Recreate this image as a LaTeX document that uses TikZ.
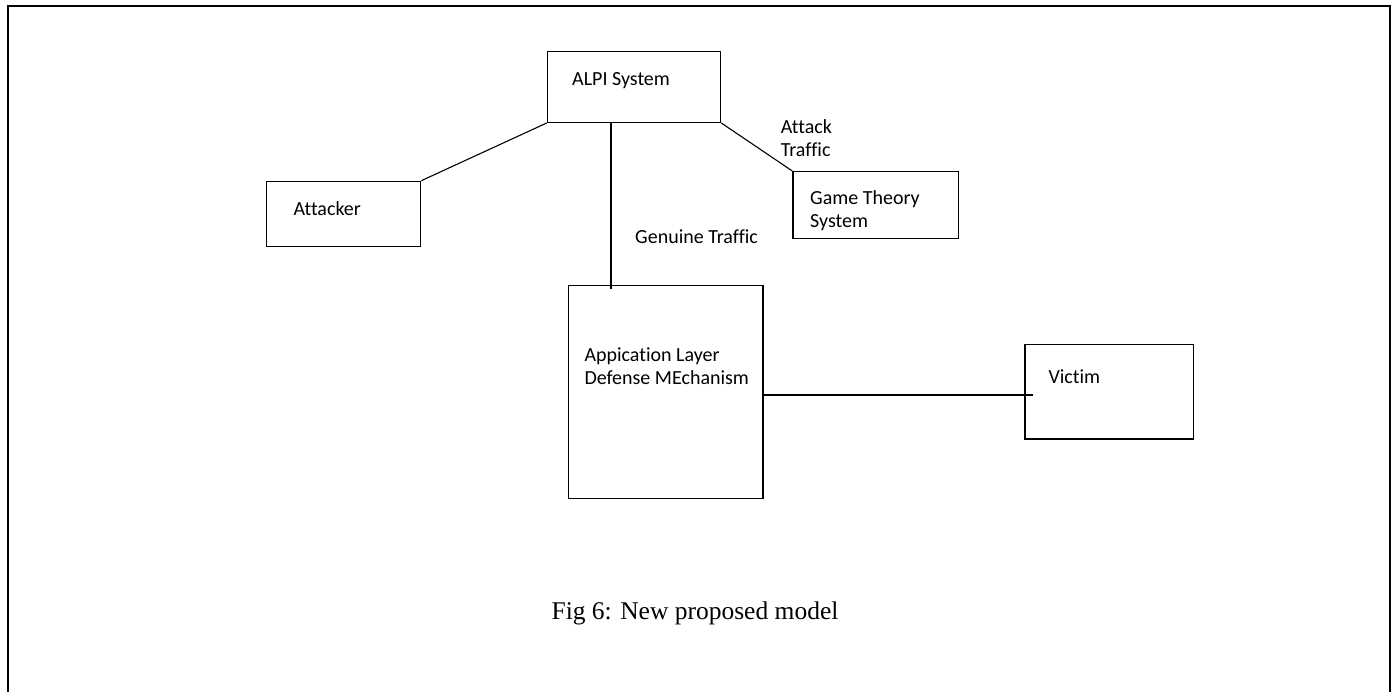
\documentclass[tikz,border=0pt]{standalone}
\usepackage{fontspec}
\setmainfont{Carlito}[Ligatures=NoCommon]
\newfontfamily\capfont{Liberation Serif}
\begin{document}
\begin{tikzpicture}[x=1pt,y=-1pt,
  box/.style={draw, line width=1.3pt, inner sep=0pt, anchor=north west},
  lbl/.style={anchor=base west, inner sep=0pt, align=left, font=\fontsize{20}{23}\selectfont},
  conn/.style={draw, line width=1.1pt}]
\useasboundingbox (0,0) rectangle (1394,692);
\draw[line width=2.6pt] (8,692) -- (8,6) -- (1390,6) -- (1390,692);
% boxes
\node[box, minimum width=173.3pt, minimum height=70.7pt] (alpi) at (546.7,51) {};
\node[box, minimum width=154.3pt, minimum height=65pt] (attacker) at (265.7,180.7) {};
\node[box, minimum width=165.7pt, minimum height=66.7pt] (game) at (792.3,171) {};
\node[box, minimum width=194.6pt, minimum height=212.7pt] (app) at (567.7,285) {};
\node[box, minimum width=168.4pt, minimum height=94.3pt] (victim) at (1024.3,344) {};
% labels (base = baseline of the last line)
\node[lbl] (alpiT) at (572,85.5) {ALPI System};
\node[lbl] (attT) at (293.3,216) {Attacker};
\node[lbl] (gameT) at (810,227.5) {Game Theory\\System};
\node[lbl] (appT) at (584.3,384.5) {Appication Layer\\Defense MEchanism};
\node[lbl] (vicT) at (1048.3,383.3) {Victim};
\node[lbl] (atkT) at (780.7,156.5) {Attack\\Traffic};
\node[lbl] (genT) at (635,244) {Genuine Traffic};
% connectors
\coordinate (vtop) at (611,121.7);
\coordinate (vbot) at (611,289);
\coordinate (vicEnd) at (1032.7,395);
\draw[conn] (alpi.south west) -- (attacker.north east);
\draw[conn] (alpi.south east) -- (game.north west);
\draw[conn] (vtop) -- (vbot);
\draw[conn] (app.east |- vicEnd) -- (vicEnd);
% caption
\node[anchor=base, inner sep=0pt, font=\capfont\fontsize{25.5}{30}\selectfont] (cap) at (695,619) {Fig 6: New proposed model};
\end{tikzpicture}
\end{document}
